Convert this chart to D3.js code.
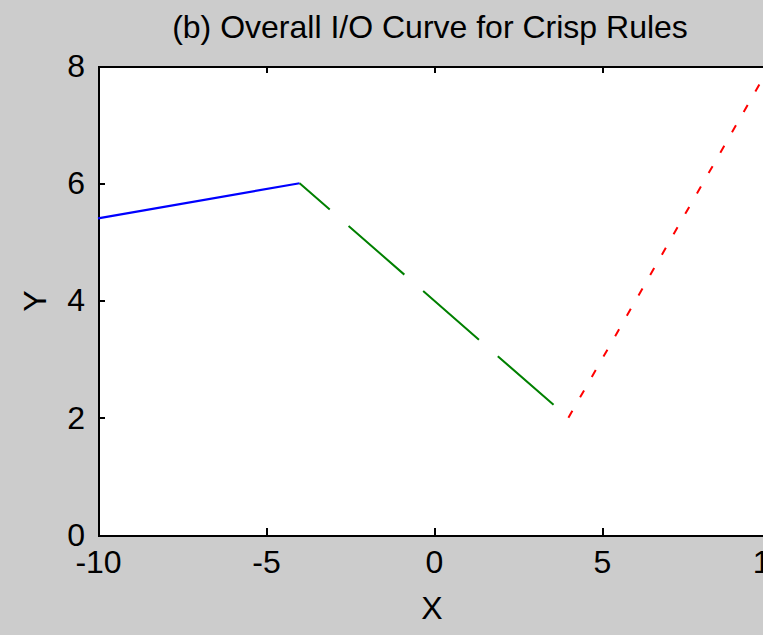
<!DOCTYPE html>
<html>
<head>
<meta charset="utf-8">
<script src="https://cdn.jsdelivr.net/npm/d3@7/dist/d3.min.js"></script>
<style>
  html, body { margin: 0; padding: 0; background: #cccccc; }
  svg { display: block; }
  text { font-family: "Liberation Sans", Arial, sans-serif; fill: #000; }
</style>
</head>
<body>
<svg id="chart" width="763" height="635"></svg>
<script>
// Piecewise I/O curve of the crisp rule base
const blueX = [-10, -4];
const blueY = [5.4, 6.0];
const greenX = [-4, 4];
const greenY = [6.0, 2.0];
const redX = [4, 10];
const redY = [2.0, 8.0];

const xTicks = [-10, -5, 0, 5, 10];
const yTicks = [0, 2, 4, 6, 8];

const W = 763, H = 635;
const m = { left: 98, top: 66, right: 770, bottom: 535 };

const svg = d3.select("#chart");
svg.append("rect").attr("width", W).attr("height", H).attr("fill", "#cccccc");

const x = d3.scaleLinear().domain([-10, 10]).range([m.left, m.right]);
const y = d3.scaleLinear().domain([0, 8]).range([m.bottom, m.top]);

// plot area
svg.append("rect")
  .attr("x", m.left).attr("y", m.top)
  .attr("width", m.right - m.left).attr("height", m.bottom - m.top)
  .attr("fill", "#ffffff");

const fontSize = 32;
// plain hyphen for negative numbers
const fmt = d => String(d);

// axes with inward ticks on all four sides
const gB = svg.append("g").attr("transform", `translate(0,${m.bottom})`)
  .call(d3.axisBottom(x).tickValues(xTicks).tickFormat(fmt).tickSizeInner(-7).tickSizeOuter(0).tickPadding(15));
const gT = svg.append("g").attr("transform", `translate(0,${m.top})`)
  .call(d3.axisTop(x).tickValues(xTicks).tickFormat("").tickSizeInner(-7).tickSizeOuter(0));
const gL = svg.append("g").attr("transform", `translate(${m.left},0)`)
  .call(d3.axisLeft(y).tickValues(yTicks).tickFormat(fmt).tickSizeInner(-7).tickSizeOuter(0).tickPadding(13));
const gR = svg.append("g").attr("transform", `translate(${m.right},0)`)
  .call(d3.axisRight(y).tickValues(yTicks).tickFormat("").tickSizeInner(-7).tickSizeOuter(0));

[gB, gT, gL, gR].forEach(g => {
  g.select(".domain").attr("stroke", "#000").attr("stroke-width", 2);
  g.selectAll(".tick line").attr("stroke", "#000").attr("stroke-width", 2);
  g.selectAll("text")
    .attr("font-family", "Liberation Sans, Arial, sans-serif")
    .attr("font-size", fontSize).attr("fill", "#000");
});
svg.selectAll("path.domain, .tick line").attr("shape-rendering", "crispEdges");

const line = d3.line().x(d => x(d[0])).y(d => y(d[1]));
const pts = (xs, ys) => xs.map((v, i) => [v, ys[i]]);

// solid blue segment
svg.append("path").datum(pts(blueX, blueY))
  .attr("d", line).attr("fill", "none")
  .attr("stroke", "#0000ff").attr("stroke-width", 2.2);

// dashed green segment
svg.append("path").datum(pts(greenX, greenY))
  .attr("d", line).attr("fill", "none")
  .attr("stroke", "#008000").attr("stroke-width", 2)
  .attr("stroke-dasharray", "74 25").attr("stroke-dashoffset", 34);

// dotted red segment
svg.append("path").datum(pts(redX, redY))
  .attr("d", line).attr("fill", "none")
  .attr("stroke", "#ff0000").attr("stroke-width", 2)
  .attr("stroke-dasharray", "8 15.5");

// labels
svg.append("text")
  .attr("x", 430).attr("y", 38)
  .attr("text-anchor", "middle").attr("font-size", fontSize)
  .text("(b) Overall I/O Curve for Crisp Rules");

svg.append("text")
  .attr("x", 432).attr("y", 619)
  .attr("text-anchor", "middle").attr("font-size", fontSize)
  .text("X");

svg.append("text")
  .attr("transform", `translate(46,301) rotate(-90)`)
  .attr("text-anchor", "middle").attr("font-size", fontSize)
  .text("Y");
</script>
</body>
</html>
